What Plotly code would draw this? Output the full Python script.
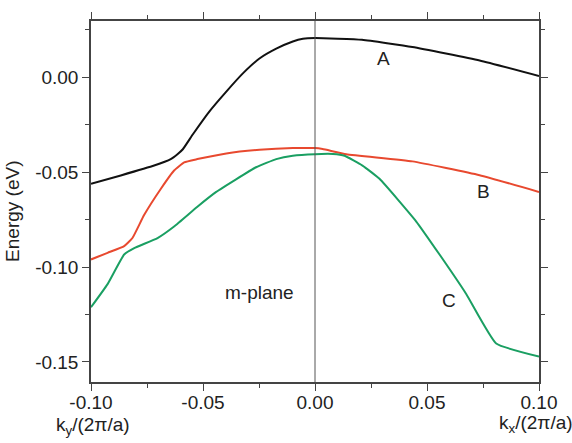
import plotly.graph_objects as go

# Curve A (black)
kA = [-0.1, -0.0867, -0.0718, -0.0644, -0.0614, -0.059, -0.0545, -0.0471, -0.0396, -0.0322, -0.0248,
      -0.0173, -0.0099, -0.0054, 0.0, 0.021, 0.0435, 0.0735, 0.1]
EA = [-0.0561, -0.0517, -0.0465, -0.0431, -0.0405, -0.0379, -0.0300, -0.0179, -0.0075, 0.0021, 0.0099,
      0.0151, 0.0189, 0.0203, 0.0207, 0.0198, 0.016, 0.0089, 0.0007]
# Curve B (red)
kB = [-0.1, -0.0926, -0.0852, -0.0815, -0.0763, -0.0688, -0.0629, -0.0584, -0.0525, -0.0396, -0.0248,
      -0.0099, 0.0, 0.0034, 0.014, 0.0435, 0.0735, 0.1]
EB = [-0.096, -0.0925, -0.089, -0.0847, -0.0726, -0.0587, -0.0491, -0.0448, -0.0431, -0.0401, -0.0382,
      -0.0373, -0.0373, -0.0378, -0.0405, -0.0443, -0.0516, -0.0604]
# Curve C (green)
kC = [-0.1, -0.0926, -0.0852, -0.0807, -0.0703, -0.0629, -0.0525, -0.0441, -0.0263, -0.0173, -0.0099,
      0.0, 0.008, 0.0132, 0.0212, 0.0288, 0.0452, 0.0556, 0.0675, 0.0809, 0.1]
EC = [-0.1212, -0.109, -0.0934, -0.090, -0.0847, -0.0786, -0.0682, -0.0604, -0.0474, -0.0431, -0.0413,
      -0.0405, -0.0404, -0.0413, -0.0465, -0.0535, -0.076, -0.0934, -0.1142, -0.1403, -0.1472]

xticks = [-0.1, -0.05, 0.0, 0.05, 0.1]
xticklabels = ["-0.10", "-0.05", "0.00", "0.05", "0.10"]
yticks = [-0.15, -0.1, -0.05, 0.0]
yticklabels = ["-0.15", "-0.10", "-0.05", "0.00"]

labels = [("A", 0.0306, 0.0099), ("B", 0.0752, -0.0604), ("C", 0.060, -0.1177), ("m-plane", -0.0248, -0.1135)]

FONT = "Liberation Sans, Arial, sans-serif"
FS = 19

fig = go.Figure()
for k, E, c in [(kA, EA, "#111111"), (kB, EB, "#e8492f"), (kC, EC, "#1a9f62")]:
    fig.add_trace(go.Scatter(x=k, y=E, mode="lines", line=dict(color=c, width=2, shape="spline", smoothing=0.4),
                             showlegend=False, hoverinfo="skip"))

fig.add_shape(type="line", xref="x", yref="paper", x0=0, x1=0, y0=0, y1=1, line=dict(color="#555555", width=1))

for t, x, y in labels:
    fig.add_annotation(x=x, y=y, xref="x", yref="y", text=t, showarrow=False,
                       xanchor="center", yanchor="middle",
                       font=dict(size=FS, color="#222222", family=FONT))

fig.add_annotation(x=(93 - 91) / 448, y=(382 - 426) / 365, xref="paper", yref="paper",
                   xanchor="center", yanchor="middle",
                   text="k<sub>y</sub>/(2π/a)", showarrow=False, font=dict(size=FS, color="#222222", family=FONT))
fig.add_annotation(x=(536 - 91) / 448, y=(382 - 424) / 365, xref="paper", yref="paper",
                   xanchor="center", yanchor="middle",
                   text="k<sub>x</sub>/(2π/a)", showarrow=False, font=dict(size=FS, color="#222222", family=FONT))
fig.add_annotation(x=(13 - 91) / 448, y=(382 - 210) / 365, xref="paper", yref="paper",
                   xanchor="center", yanchor="middle",
                   text="Energy (eV)", textangle=-90, showarrow=False, font=dict(size=FS, color="#222222", family=FONT))

axis_common = dict(showline=True, linecolor="#444444", linewidth=1.5, mirror="ticks", ticks="outside",
                   ticklen=7, tickwidth=1.2, tickcolor="#444444", showgrid=False, zeroline=False,
                   tickfont=dict(size=FS, color="#222222", family=FONT))

fig.update_xaxes(range=[-0.1, 0.1], tickvals=xticks, ticktext=xticklabels, ticklabelstandoff=-5,
                 minor=dict(ticks="outside", ticklen=4, dtick=0.025, tick0=0, tickcolor="#444444", tickwidth=1.2),
                 **axis_common)
fig.update_yaxes(range=[-0.1606, 0.0297], tickvals=yticks, ticktext=yticklabels,
                 minor=dict(ticks="outside", ticklen=4, dtick=0.025, tick0=0, tickcolor="#444444", tickwidth=1.2),
                 **axis_common)

fig.update_layout(width=572, height=443, margin=dict(l=91, r=33, t=17, b=61),
                  paper_bgcolor="white", plot_bgcolor="white", font=dict(family=FONT))

fig.write_html("out.html")
